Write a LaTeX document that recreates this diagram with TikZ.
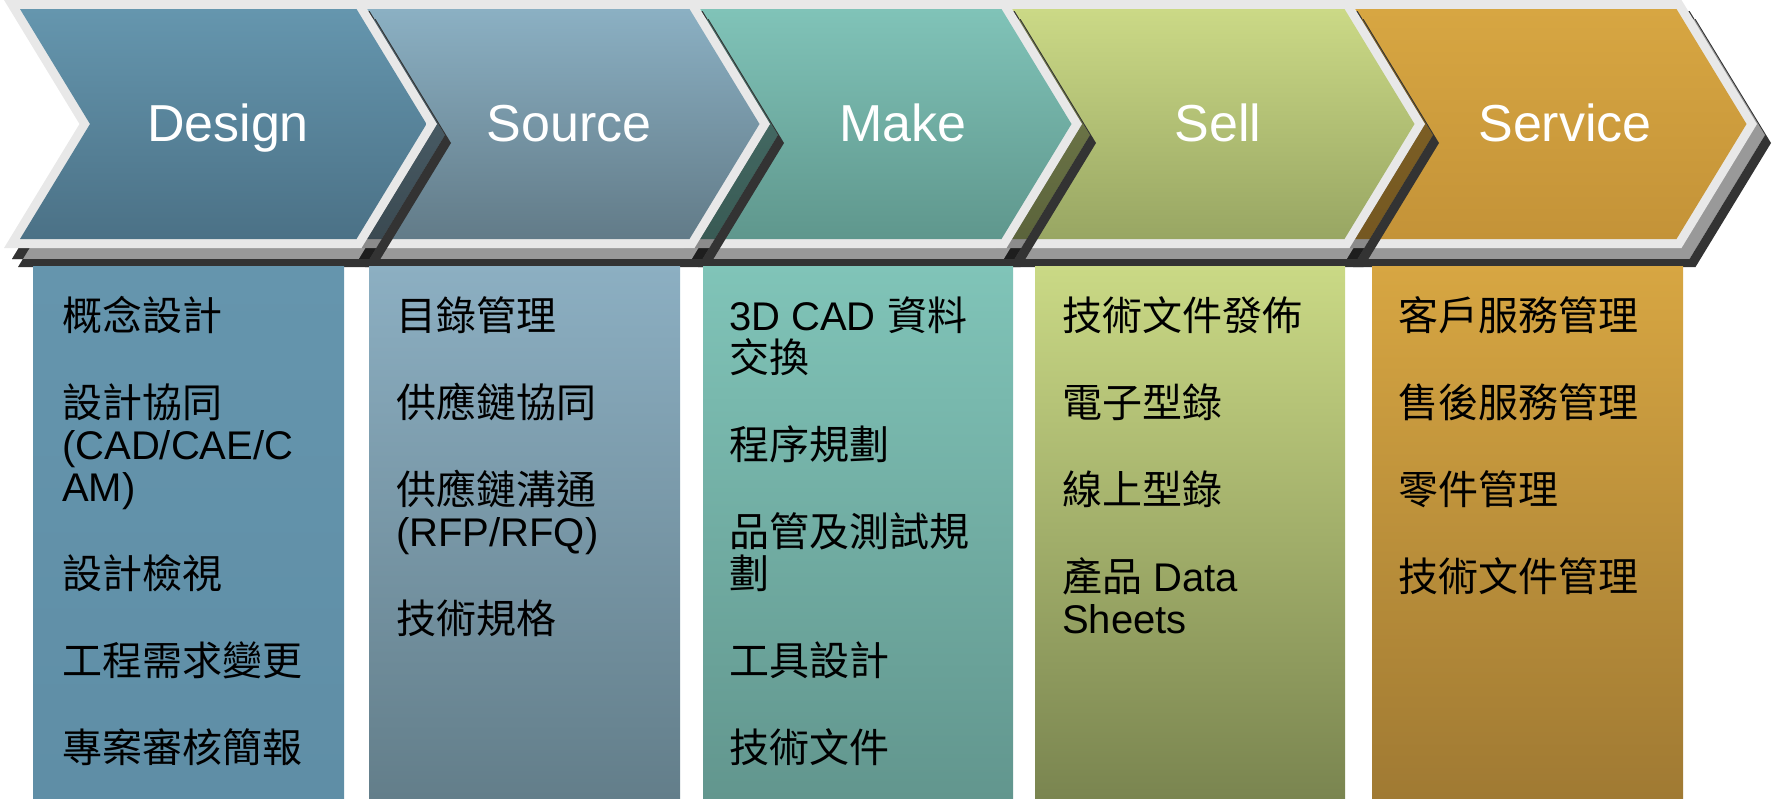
\documentclass[tikz,border=0pt]{standalone}
\usepackage{fontspec}
\setmainfont{Liberation Sans}
\newfontfamily\cjk{Noto Sans CJK TC}
\definecolor{rimgray}{HTML}{E8E8E8}
\definecolor{shadowdark}{HTML}{333333}
\definecolor{desT}{HTML}{6596AE}\definecolor{desB}{HTML}{4B7186}
\definecolor{souT}{HTML}{8BB0C3}\definecolor{souB}{HTML}{627B88}
\definecolor{makT}{HTML}{80C3B8}\definecolor{makB}{HTML}{5F978D}
\definecolor{selT}{HTML}{CBD986}\definecolor{selB}{HTML}{98A663}
\definecolor{serT}{HTML}{D7A642}\definecolor{serB}{HTML}{C49338}
\definecolor{cdesT}{HTML}{6595AD}\definecolor{cdesB}{HTML}{5F8EA6}
\definecolor{csouT}{HTML}{8CAFC2}\definecolor{csouB}{HTML}{637E8A}
\definecolor{cmakT}{HTML}{80C4B8}\definecolor{cmakB}{HTML}{62968E}
\definecolor{cselT}{HTML}{CAD985}\definecolor{cselB}{HTML}{7A8550}
\definecolor{cserT}{HTML}{D7A642}\definecolor{cserB}{HTML}{A07A33}
\newcommand\myitemfont{\fontsize{40}{42}\selectfont}
\newcommand\myheadfont{\fontsize{52}{56}\selectfont}
% chevron outline: #1 dx, #2 dy, #3 notch x, #4 tip x
\newcommand\chevpath[4]{({#3-75.5+#1},{#2}) -- ({#4-75.5+#1},{#2}) -- ({#4+#1},{124+#2}) -- ({#4-75.5+#1},{248+#2}) -- ({#3-75.5+#1},{248+#2}) -- ({#3+#1},{124+#2}) -- cycle}
\newcommand\chevinner[2]{({#1+10.5-70},9) -- ({#2-10.5-70},9) -- ({#2-10.5},124) -- ({#2-10.5-70},239) -- ({#1+10.5-70},239) -- ({#1+10.5},124) -- cycle}
\tikzset{
  itemtext/.style={anchor=base west, inner sep=0pt, text=black, font=\myitemfont},
  headtext/.style={anchor=base, inner sep=0pt, text=white, font=\myheadfont},
}
\begin{document}
\begin{tikzpicture}[x=1pt,y=-1pt]
\useasboundingbox (0,0) rectangle (1775,798);
% chevrons, drawn from right to left so each shadow falls on its right neighbour
\foreach \n/\T/\N/\ct/\cb/\lab/\lx in {
  serv/1757/1414.5/serT/serB/Service/1565,
  sell/1425/1071.5/selT/selB/Sell/1218,
  make/1082/759.5/makT/makB/Make/903,
  sour/770/426.5/souT/souB/Source/569,
  desi/437/79.5/desT/desB/Design/228}{
  \fill[black, opacity=0.4] \chevpath{8}{11}{\N}{\T};
  \fill[shadowdark, even odd rule] \chevpath{8}{11}{\N}{\T} \chevpath{14}{19}{\N}{\T};
  \fill[rimgray] \chevpath{0}{0}{\N}{\T};
  \shade[top color=\ct, bottom color=\cb] \chevinner{\N}{\T};
  \node[headtext] (\n-head) at (\lx,141) {\lab};
}
% columns
\shade[top color=cdesT, bottom color=cdesB] (33,266) rectangle (344,798);
\shade[top color=csouT, bottom color=csouB] (369,266) rectangle (680,798);
\shade[top color=cmakT, bottom color=cmakB] (703,266) rectangle (1013,798);
\shade[top color=cselT, bottom color=cselB] (1035,266) rectangle (1345,798);
\shade[top color=cserT, bottom color=cserB] (1372,266) rectangle (1683,798);
% Design items
\node[itemtext] (d1) at (62,330) {\cjk 概念設計};
\node[itemtext] (d2) at (62,417) {\cjk 設計協同};
\node[itemtext] (d3) at (62,459) {(CAD/CAE/C};
\node[itemtext] (d4) at (62,501) {AM)};
\node[itemtext] (d5) at (62,588) {\cjk 設計檢視};
\node[itemtext] (d6) at (62,675) {\cjk 工程需求變更};
\node[itemtext] (d7) at (62,762) {\cjk 專案審核簡報};
% Source items
\node[itemtext] (s1) at (396,330) {\cjk 目錄管理};
\node[itemtext] (s2) at (396,417) {\cjk 供應鏈協同};
\node[itemtext] (s3) at (396,504) {\cjk 供應鏈溝通};
\node[itemtext] (s4) at (396,546) {(RFP/RFQ)};
\node[itemtext] (s5) at (396,633) {\cjk 技術規格};
% Make items
\node[itemtext] (m1) at (729,330) {3D CAD {\cjk 資料}};
\node[itemtext] (m2) at (729,372) {\cjk 交換};
\node[itemtext] (m3) at (729,459) {\cjk 程序規劃};
\node[itemtext] (m4) at (729,546) {\cjk 品管及測試規};
\node[itemtext] (m5) at (729,588) {\cjk 劃};
\node[itemtext] (m6) at (729,675) {\cjk 工具設計};
\node[itemtext] (m7) at (729,762) {\cjk 技術文件};
% Sell items
\node[itemtext] (l1) at (1062,330) {\cjk 技術文件發佈};
\node[itemtext] (l2) at (1062,417) {\cjk 電子型錄};
\node[itemtext] (l3) at (1062,504) {\cjk 線上型錄};
\node[itemtext] (l4) at (1062,591) {{\cjk 產品} Data};
\node[itemtext] (l5) at (1062,633) {Sheets};
% Service items
\node[itemtext] (v1) at (1398,330) {\cjk 客戶服務管理};
\node[itemtext] (v2) at (1398,417) {\cjk 售後服務管理};
\node[itemtext] (v3) at (1398,504) {\cjk 零件管理};
\node[itemtext] (v4) at (1398,591) {\cjk 技術文件管理};
\end{tikzpicture}
\end{document}
